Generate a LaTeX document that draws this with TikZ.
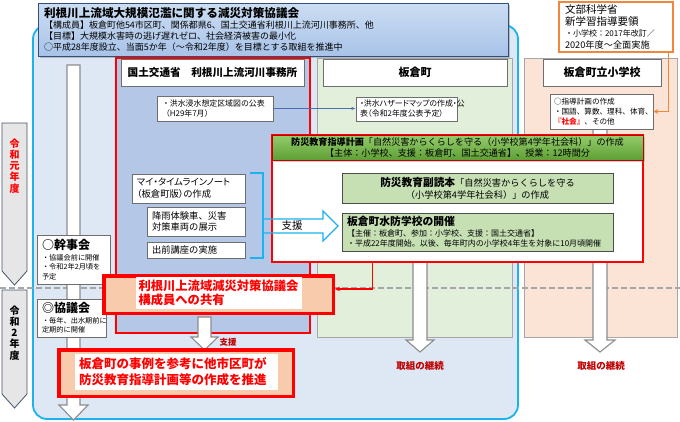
\documentclass[tikz,border=0pt]{standalone}
\usepackage{fontspec}
\setmainfont{Noto Sans CJK JP}
\newfontfamily\propjp{Noto Sans CJK JP}[RawFeature=+palt]
\usetikzlibrary{arrows.meta,shadows}

\definecolor{regionblue}{HTML}{DDE8F4}
\definecolor{regionedge}{HTML}{1CB2EB}
\definecolor{kokublue}{HTML}{B4C7E7}
\definecolor{machigreen}{HTML}{E2EFDA}
\definecolor{schoolpeach}{HTML}{FBE4D6}
\definecolor{boxgray}{HTML}{6E6E6E}
\definecolor{colgray}{HTML}{A6A6A6}
\definecolor{arrowgray}{HTML}{8C8C8C}
\definecolor{planlight}{HTML}{C6E0B4}
\definecolor{plangreenA}{HTML}{94CD6C}
\definecolor{plangreenB}{HTML}{5E9E34}
\definecolor{sharepeach}{HTML}{F8CBAD}
\definecolor{darkred}{HTML}{C00000}
\definecolor{mextorange}{HTML}{F2873A}
\definecolor{yeargray}{HTML}{E7E6E6}
\definecolor{yearedge}{HTML}{44546A}
\definecolor{hdrtop}{HTML}{CCDDF3}
\definecolor{hdrbottom}{HTML}{A8C3E8}
\definecolor{hdredge}{HTML}{30507C}
\definecolor{linkblue}{HTML}{4A6FB5}

\tikzset{
  box/.style={draw=boxgray, fill=white, line width=0.7pt, inner xsep=5pt, inner ysep=0pt, align=left},
  colhead/.style={box, align=center, font=\bfseries\fontsize{10.6}{12}\selectfont},
  greenbox/.style={box, fill=planlight, draw=black!70},
  hollow/.style={draw=arrowgray, fill=white, line width=1.1pt, line join=miter},
  yeararrow/.style={draw=yearedge, fill=yeargray, line width=0.8pt},
  yeartxt/.style={align=center, inner sep=0pt, font=\bfseries\fontsize{10}{11.2}\selectfont},
  redbox/.style={draw=red, fill=sharepeach, line width=3.5pt},
  redtxt/.style={fill=white, text=red, align=left, inner xsep=3pt, inner ysep=0pt},
  contlabel/.style={text=darkred, font=\bfseries\fontsize{9.5}{11}\selectfont},
}

\begin{document}
\begin{tikzpicture}[x=1pt,y=-1pt]
\useasboundingbox (0,0) rectangle (680,421);

% council region
\draw[fill=regionblue, draw=regionedge, line width=1.8pt, rounded corners=14pt] (33,25) rectangle (518,419);

\node[draw=hdredge, line width=0.8pt, top color=hdrtop, bottom color=hdrbottom,
  drop shadow={shadow xshift=2pt, shadow yshift=-2pt, opacity=0.45},
  align=left, inner xsep=6pt, inner ysep=0pt, text width=458pt, minimum height=53pt,
  font=\fontsize{9}{11}\selectfont] (hdr) at (273,29.5)
  {{\bfseries\fontsize{11.6}{11}\selectfont 利根川上流域大規模氾濫に関する減災対策協議会}\\
   【構成員】板倉町他54市区町、関係都県6、国土交通省利根川上流河川事務所、他\\
   【目標】大規模水害時の逃げ遅れゼロ、社会経済被害の最小化\\
   ○平成28年度設立、当面5か年（～令和2年度）を目標とする取組を推進中};

% columns
\draw[red, line width=1.5pt, fill=kokublue] (116,58) rectangle (310,333);
\draw[colgray, line width=0.8pt, fill=machigreen] (317,58) rectangle (512,337);
\draw[colgray, line width=0.8pt, fill=schoolpeach] (524,58) rectangle (677,337);

\draw[colgray, line width=1.2pt, dash pattern=on 6pt off 3pt] (0,288) -- (680,288);

% long arrows
\draw[hollow] (67,65) -- (80,65) -- (80,405) -- (88,405) -- (73.5,420) -- (59,405) -- (67,405) -- cycle;
\draw[hollow] (413,258) -- (427,258) -- (427,340) -- (434,340) -- (420,352) -- (406,340) -- (413,340) -- cycle;
\draw[hollow] (593,129) -- (607,129) -- (607,340) -- (615,340) -- (600,352) -- (585,340) -- (593,340) -- cycle;

% years
\draw[yeararrow] (2,123) -- (27,123) -- (27,271) -- (14.5,285) -- (2,271) -- cycle;
\node[yeartxt, text=red] (year1) at (14.5,166) {令\\和\\元\\年\\度};
\draw[yeararrow] (2,290) -- (27,290) -- (27,394) -- (14.5,408) -- (2,394) -- cycle;
\node[yeartxt] (year2) at (14.5,333) {令\\和\\2\\年\\度};

\node[box, text width=63pt, minimum height=49pt, font=\fontsize{7.2}{9.6}\selectfont] (kanji) at (73.5,259.5)
  {{\bfseries\fontsize{12}{13}\selectfont ○幹事会}\\[1pt]・協議会前に開催\\・令和2年2月頃を\\予定};
\node[box, text width=59pt, minimum height=38pt, font=\fontsize{7.2}{9.6}\selectfont] (kyogi) at (71.5,318)
  {{\bfseries\fontsize{12}{13}\selectfont ◎協議会}\\[1pt]・毎年、出水期前に\\定期的に開催};

% column heads
\node[colhead, text width=173pt, minimum height=27pt] (kokuhead) at (212.5,72.5) {国土交通省　利根川上流河川事務所};
\node[colhead, text width=174pt, minimum height=27pt, font=\bfseries\fontsize{11}{12}\selectfont] (machihead) at (415,72.5) {板倉町};
\node[colhead, text width=108pt, minimum height=27pt, font=\bfseries\fontsize{11}{12}\selectfont] (schoolhead) at (602,72.5) {板倉町立小学校};

\node[box, text width=106pt, minimum height=25pt, font=\fontsize{7.9}{10}\selectfont] (shinsui) at (215,108.5)
  {・洪水浸水想定区域図の公表\\（H29年7月）};
\node[box, inner xsep=4pt, text width=93pt, minimum height=24pt, font=\propjp\fontsize{7.9}{10}\selectfont] (hazard) at (406.5,109)
  {・洪水ハザードマップの作成・公\\表（令和2年度公表予定）};
\node[box, text width=103pt, minimum height=29pt, font=\propjp\fontsize{9.3}{11.7}\selectfont] (mytl) at (188.5,188.5)
  {マイ・タイムラインノート\\（板倉町版）の作成};
\node[box, text width=88pt, minimum height=29pt, font=\fontsize{9.3}{11.7}\selectfont] (kousha) at (196,221.5)
  {降雨体験車、災害\\対策車両の展示};
\node[box, text width=88pt, minimum height=16pt, font=\fontsize{9.3}{11.7}\selectfont] (demae) at (196,250) {出前講座の実施};

\node[box, inner xsep=4pt, text width=95pt, minimum height=35pt, font=\fontsize{7.6}{10}\selectfont] (shido) at (601.5,111.5)
  {○指導計画の作成\\・国語、算数、理科、体育、\\{\color{red}\bfseries『社会』}、その他};
\node[box, draw=mextorange, line width=1.2pt, inner xsep=6pt, text width=102pt, minimum height=50pt,
  font=\fontsize{10.5}{11.8}\selectfont] (mext) at (616,27)
  {文部科学省\\新学習指導要領\\{\fontsize{8}{10}\selectfont ・小学校：2017年改訂／}\\{\fontsize{9.2}{10}\selectfont 2020年度～全面実施}};

\draw[linkblue, line width=0.6pt, -{Latex[length=4pt,width=3pt]}] (shinsui.east) -- (shinsui.east -| hazard.west);
\draw[mextorange, line width=1.2pt, -{Stealth[length=5pt,width=5pt]}] ([xshift=-5pt]mext.south east) |- (shido.east);

% teaching plan
\node[draw=red, line width=1.5pt, fill=white, minimum width=371pt, minimum height=127pt] (plan) at (457.5,198.5) {};
\node[draw=darkred, line width=1pt, top color=plangreenA, bottom color=plangreenB,
  drop shadow={shadow xshift=2pt, shadow yshift=-2pt, opacity=0.4},
  minimum width=371pt, minimum height=25pt, inner ysep=0pt, align=center, font=\fontsize{9.1}{10.5}\selectfont] (planhead) at (457.5,147.5)
  {{\bfseries 防災教育指導計画}「自然災害からくらしを守る（小学校第4学年社会科）」の作成\\
   【主体：小学校、支援：板倉町、国土交通省】、授業：12時間分};
\node[greenbox, text width=261pt, minimum height=30pt, align=center, font=\fontsize{9.2}{12}\selectfont] (dokuhon) at (477.5,188)
  {{\bfseries\fontsize{10.7}{12}\selectfont 防災教育副読本}「自然災害からくらしを守る\\（小学校第4学年社会科）」の作成};
\node[greenbox, text width=261pt, minimum height=38pt, font=\fontsize{8}{10.5}\selectfont] (suibou) at (477.5,232)
  {{\bfseries\fontsize{10.8}{12}\selectfont 板倉町水防学校の開催}\\
   【主催：板倉町、参加：小学校、支援：国土交通省】\\
   ・平成22年度開始。以後、毎年町内の小学校4年生を対象に10月頃開催};

% support arrow
\draw[regionedge, line width=1.3pt] (250,173) -- (263,173) -- (263,258) -- (250,258);
\draw[regionedge, line width=1.3pt, line join=miter] (263,219) -- (323,219) -- (323,211) -- (338,226) -- (323,241) -- (323,233) -- (263,233);
\node[font=\fontsize{10.5}{12}\selectfont] (shien) at (292,226) {支援};

% sharing
\node[redbox, minimum width=229.5pt, minimum height=37.5pt] (share) at (218.5,294.5) {};
\node[redtxt, text width=160pt, minimum height=32pt, font=\bfseries\fontsize{12.3}{14.5}\selectfont] (sharetxt) at (218.5,293)
  {利根川上流域減災対策協議会\\構成員への共有};
\draw[red, line width=1.2pt, -{Stealth[length=5pt,width=4.5pt]}] ([xshift=101pt]plan.south west) |- ([yshift=5.5pt]share.east);

\draw[hollow] (198,317) -- (211,317) -- (211,337) -- (218,337) -- (204.5,350) -- (191,337) -- (198,337) -- cycle;
\node[text=darkred, font=\bfseries\fontsize{8.5}{10}\selectfont] (shien2) at (228,342) {支援};

\node[redbox, minimum width=234.5pt, minimum height=46.5pt] (tashi) at (176,373) {};
\node[redtxt, inner xsep=4pt, text width=195pt, minimum height=36pt, font=\bfseries\fontsize{12.5}{16}\selectfont] (tashitxt) at (176.5,372)
  {板倉町の事例を参考に他市区町が\\防災教育指導計画等の作成を推進};

\node[contlabel] (cont1) at (420,366) {取組の継続};
\node[contlabel] (cont2) at (601,366) {取組の継続};
\end{tikzpicture}
\end{document}
